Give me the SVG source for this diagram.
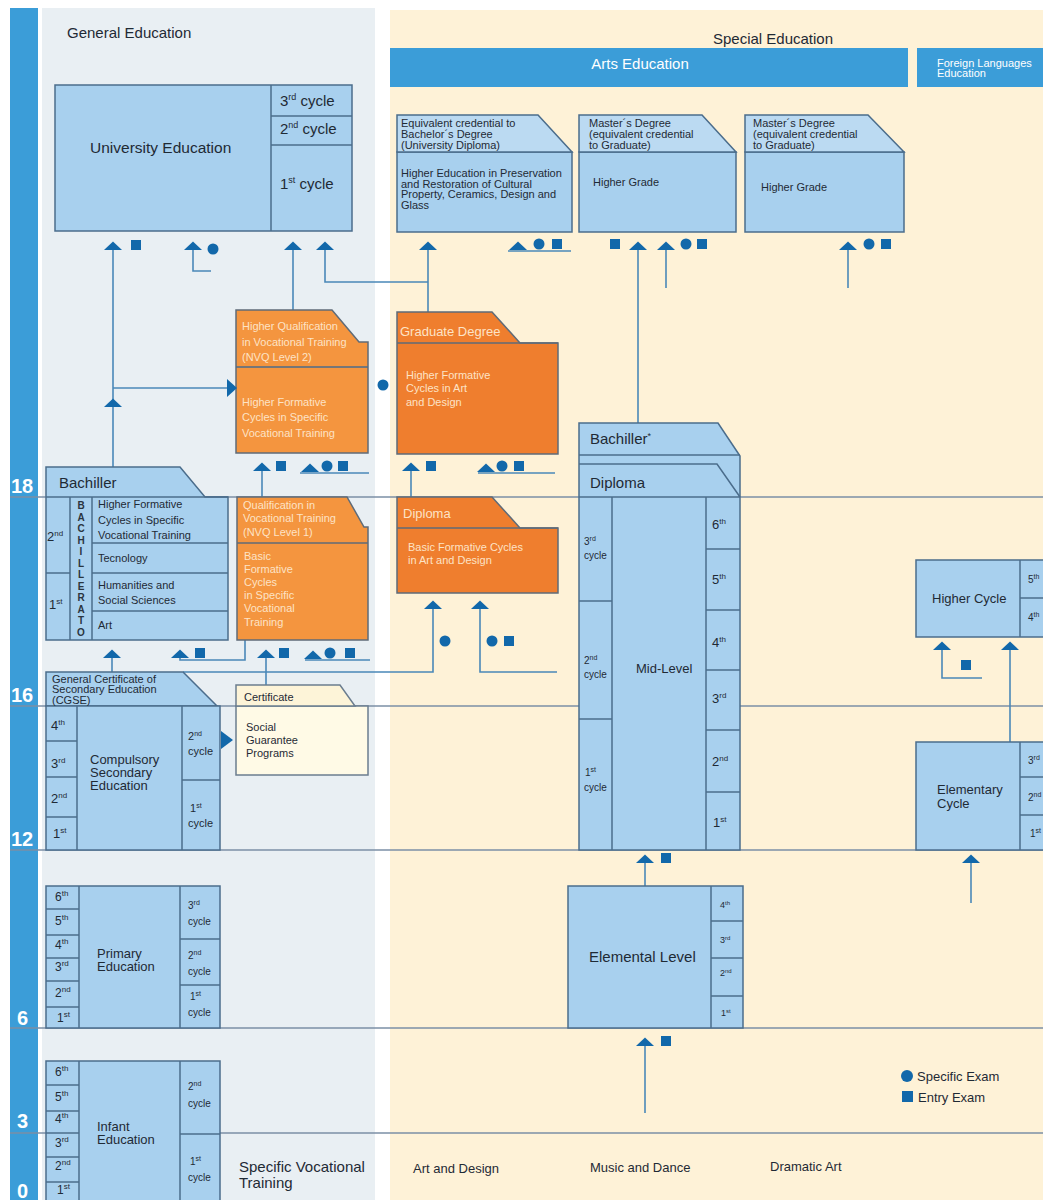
<svg xmlns="http://www.w3.org/2000/svg" xmlns:xlink="http://www.w3.org/1999/xlink" width="1043" height="1200" viewBox="0 0 1043 1200">
<style>
text{font-family:"Liberation Sans",Arial,Helvetica,sans-serif;fill:#1f2a35}
.w{fill:#ffffff}
.o{fill:#fde3c6}
.age{font-size:20px;font-weight:bold;fill:#ffffff}
.al{stroke:#7b8fa6;stroke-width:1.5;fill:none}
.box{fill:#a8d0ee;stroke:#4b6d8c;stroke-width:1.5}
.tab{fill:#bbdaf2;stroke:#4b6d8c;stroke-width:1.5}
.dv{stroke:#4b6d8c;stroke-width:1.5;fill:none}
.or1{fill:#f4953f;stroke:#5f6b78;stroke-width:1.5}
.or2{fill:#ef7e2e;stroke:#5f6b78;stroke-width:1.5}
.cert{fill:#fffae6;stroke:#6b7d8f;stroke-width:1.5}
.certt{fill:#fdf4d8;stroke:#6b7d8f;stroke-width:1.5}
.cn{fill:none;stroke:#4a88b8;stroke-width:1.6}
.sym{fill:#1268aa}
.f11{font-size:11px}
.f10{font-size:10px}
.f9{font-size:9px}
.f12{font-size:12px}
.f13{font-size:13px}
.f15{font-size:15px}
.vl{font-size:10px;font-weight:bold;fill:#2a3540}
</style>
<defs>
<path id="tri" d="M-9,4 L9,4 L0,-4.5 Z"/>
<circle id="dot" r="5.5"/>
<rect id="sq" x="-5" y="-5" width="10" height="10"/>
</defs>

<!-- backgrounds -->
<rect x="0" y="0" width="1043" height="1200" fill="#ffffff"/>
<rect x="10" y="8" width="28" height="1192" fill="#3b9dd8"/>
<rect x="42" y="8" width="333" height="1192" fill="#e9eff3"/>
<rect x="390" y="10" width="653" height="1190" fill="#fef2d7"/>
<rect x="390" y="48" width="518" height="39" fill="#3b9dd8"/>
<rect x="917" y="48" width="126" height="39" fill="#3b9dd8"/>

<text x="67" y="38" class="f15">General Education</text>
<text x="773" y="44" class="f15" text-anchor="middle">Special Education</text>
<text x="640" y="69" class="f15 w" text-anchor="middle">Arts Education</text>
<text x="937" y="67" class="f11 w">Foreign Languages</text>
<text x="937" y="77" class="f11 w">Education</text>

<!-- age lines -->
<g id="age-lines">
<line class="al" x1="10" y1="497" x2="1043" y2="497"/>
<line class="al" x1="10" y1="706" x2="1043" y2="706"/>
<line class="al" x1="10" y1="850" x2="1043" y2="850"/>
<line class="al" x1="10" y1="1028" x2="1043" y2="1028"/>
<line class="al" x1="10" y1="1133" x2="1043" y2="1133"/>
<text x="11" y="493" class="age">18</text>
<text x="11" y="702" class="age">16</text>
<text x="11" y="846" class="age">12</text>
<text x="17" y="1025" class="age">6</text>
<text x="17" y="1128" class="age">3</text>
<text x="17" y="1198" class="age" font-size="18px">0</text>
</g>

<!-- connectors -->
<g id="connectors">
<path class="cn" d="M113,250 V467"/>
<path class="cn" d="M113,388 H229"/>
<path class="cn" d="M193,250 V271 H211"/>
<path class="cn" d="M293,250 V310"/>
<path class="cn" d="M325,250 V282 H428"/>
<path class="cn" d="M428,250 V312"/>
<path class="cn" d="M638,250 V423"/>
<path class="cn" d="M666,250 V288"/>
<path class="cn" d="M848,250 V288"/>
<path class="cn" d="M508,251 H571"/>
<path class="cn" d="M262,471 V497"/>
<path class="cn" d="M300,473 H369"/>
<path class="cn" d="M411,471 V497"/>
<path class="cn" d="M478,473 H555"/>
<path class="cn" d="M112,658 V672"/>
<path class="cn" d="M180,658 V660 H245 V640"/>
<path class="cn" d="M266,658 V685"/>
<path class="cn" d="M305,660 H370"/>
<path class="cn" d="M183,672 H433 V608"/>
<path class="cn" d="M480,608 V672 H557"/>
<path class="cn" d="M645,862 V886"/>
<path class="cn" d="M645,1046 V1113"/>
<path class="cn" d="M942,650 V678 H982"/>
<path class="cn" d="M1010,650 V742"/>
<path class="cn" d="M971,863 V903"/>
</g>

<!-- University Education -->
<g id="university">
<rect class="box" x="55" y="85" width="297" height="146"/>
<path class="dv" d="M271,85 V231 M271,116 H352 M271,145 H352"/>
<text x="90" y="153" font-size="15.5px">University Education</text>
<text x="280" y="106" class="f15">3<tspan font-size="9px" dy="-6">rd</tspan><tspan dy="6"> cycle</tspan></text>
<text x="280" y="134" class="f15">2<tspan font-size="9px" dy="-6">nd</tspan><tspan dy="6"> cycle</tspan></text>
<text x="280" y="189" class="f15">1<tspan font-size="9px" dy="-6">st</tspan><tspan dy="6"> cycle</tspan></text>
</g>

<!-- Arts higher boxes -->
<g id="arts-equivalent">
<rect class="box" x="397" y="152" width="175" height="80"/>
<path class="tab" d="M397,115 H538 L572,152 H397 Z"/>
<text x="401" y="127" class="f11">Equivalent credential to</text>
<text x="401" y="138" class="f11">Bachelor´s Degree</text>
<text x="401" y="149" class="f11">(University Diploma)</text>
<text x="401" y="177" class="f11">Higher Education in Preservation</text>
<text x="401" y="187.5" class="f11">and Restoration of Cultural</text>
<text x="401" y="198" class="f11">Property, Ceramics, Design and</text>
<text x="401" y="208.5" class="f11">Glass</text>
</g>
<g id="arts-master-music">
<rect class="box" x="579" y="152" width="157" height="80"/>
<path class="tab" d="M579,115 H702 L736,152 H579 Z"/>
<text x="589" y="127" class="f11">Master´s Degree</text>
<text x="589" y="138" class="f11">(equivalent credential</text>
<text x="589" y="149" class="f11">to Graduate)</text>
<text x="593" y="186" class="f11">Higher Grade</text>
</g>
<g id="arts-master-drama">
<rect class="box" x="745" y="152" width="159" height="80"/>
<path class="tab" d="M745,115 H868 L904,152 H745 Z"/>
<text x="753" y="127" class="f11">Master´s Degree</text>
<text x="753" y="138" class="f11">(equivalent credential</text>
<text x="753" y="149" class="f11">to Graduate)</text>
<text x="761" y="191" class="f11">Higher Grade</text>
</g>

<!-- Higher Qualification -->
<g id="higher-qualification">
<path class="or1" d="M236,310 H332 L359,342 H368 V453 H236 Z"/>
<path class="dv" d="M236,367 H368" stroke="#5f6b78"/>
<text x="242" y="330" class="f11 o">Higher Qualification</text>
<text x="242" y="346" class="f11 o">in Vocational Training</text>
<text x="242" y="361" class="f11 o">(NVQ Level 2)</text>
<text x="242" y="406" class="f11 o">Higher Formative</text>
<text x="242" y="421" class="f11 o">Cycles in Specific</text>
<text x="242" y="437" class="f11 o">Vocational Training</text>
</g>

<!-- Graduate Degree -->
<g id="graduate-degree">
<path class="or2" d="M397,312 H492 L520,343 H558 V454 H397 Z"/>
<path d="M397,343 H558" stroke="#5f6b78" stroke-width="1.5"/>
<text x="400" y="336" class="f13 o">Graduate Degree</text>
<text x="406" y="379" class="f11 o">Higher Formative</text>
<text x="406" y="392" class="f11 o">Cycles in Art</text>
<text x="406" y="406" class="f11 o">and Design</text>
</g>

<!-- Bachiller -->
<g id="bachiller">
<path class="box" d="M46,467 H180 L205,497 H228 V640 H46 Z"/>
<path class="dv" d="M46,497 H228 M70,497 V640 M92,497 V640 M46,573 H70 M92,543 H228 M92,573 H228 M92,611 H228"/>
<text x="59" y="488" class="f15">Bachiller</text>
<text x="47" y="541" class="f13">2<tspan font-size="8px" dy="-5">nd</tspan></text>
<text x="49" y="609" class="f13">1<tspan font-size="8px" dy="-5">st</tspan></text>
<text class="vl" text-anchor="middle" x="81" y="509">B<tspan x="81" dy="11.5">A</tspan><tspan x="81" dy="11.5">C</tspan><tspan x="81" dy="11.5">H</tspan><tspan x="81" dy="11.5">I</tspan><tspan x="81" dy="11.5">L</tspan><tspan x="81" dy="11.5">L</tspan><tspan x="81" dy="11.5">E</tspan><tspan x="81" dy="11.5">R</tspan><tspan x="81" dy="11.5">A</tspan><tspan x="81" dy="11.5">T</tspan><tspan x="81" dy="11.5">O</tspan></text>
<text x="98" y="508" class="f11">Higher Formative</text>
<text x="98" y="524" class="f11">Cycles in Specific</text>
<text x="98" y="539" class="f11">Vocational Training</text>
<text x="98" y="562" class="f11">Tecnology</text>
<text x="98" y="589" class="f11">Humanities and</text>
<text x="98" y="604" class="f11">Social Sciences</text>
<text x="98" y="629" class="f11">Art</text>
</g>

<!-- Qualification in Vocational Training -->
<g id="qualification-vt">
<path class="or1" d="M237,497 H347 L364,527 H368 V640 H237 Z"/>
<path d="M237,543 H368" stroke="#5f6b78" stroke-width="1.5"/>
<text x="243" y="509" class="f11 o">Qualification in</text>
<text x="243" y="522" class="f11 o">Vocational Training</text>
<text x="243" y="536" class="f11 o">(NVQ Level 1)</text>
<text x="244" y="560" class="f11 o">Basic</text>
<text x="244" y="573" class="f11 o">Formative</text>
<text x="244" y="586" class="f11 o">Cycles</text>
<text x="244" y="599" class="f11 o">in Specific</text>
<text x="244" y="612" class="f11 o">Vocational</text>
<text x="244" y="626" class="f11 o">Training</text>
</g>

<!-- Diploma Art -->
<g id="diploma-art">
<path class="or2" d="M397,497 H492 L520,528 H558 V593 H397 Z"/>
<path d="M397,528 H558" stroke="#5f6b78" stroke-width="1.5"/>
<text x="403" y="518" class="f13 o">Diploma</text>
<text x="408" y="551" class="f11 o">Basic Formative Cycles</text>
<text x="408" y="564" class="f11 o">in Art and Design</text>
</g>

<!-- CGSE / Compulsory Secondary -->
<g id="compulsory-secondary">
<path class="box" d="M46,672 H183 L217,706 H46 Z"/>
<rect class="box" x="46" y="706" width="174" height="144"/>
<path class="dv" d="M77,706 V850 M182,706 V850 M46,741 H77 M46,777 H77 M46,817 H77 M182,780 H220"/>
<text x="52" y="683" class="f11">General Certificate of</text>
<text x="52" y="693" class="f11">Secondary Education</text>
<text x="52" y="704" class="f11">(CGSE)</text>
<text x="90" y="764" class="f13">Compulsory</text>
<text x="90" y="777" class="f13">Secondary</text>
<text x="90" y="790" class="f13">Education</text>
<text x="51" y="730" class="f13">4<tspan font-size="8px" dy="-5">th</tspan></text>
<text x="51" y="768" class="f13">3<tspan font-size="8px" dy="-5">rd</tspan></text>
<text x="51" y="803" class="f13">2<tspan font-size="8px" dy="-5">nd</tspan></text>
<text x="53" y="838" class="f13">1<tspan font-size="8px" dy="-5">st</tspan></text>
<text x="188" y="740" class="f11">2<tspan font-size="7px" dy="-4">nd</tspan></text>
<text x="188" y="755" class="f11">cycle</text>
<text x="190" y="812" class="f11">1<tspan font-size="7px" dy="-4">st</tspan></text>
<text x="188" y="827" class="f11">cycle</text>
</g>

<!-- Certificate / Social Guarantee -->
<g id="social-guarantee">
<rect class="cert" x="236" y="706" width="132" height="69"/>
<path class="certt" d="M236,685 H340 L355,706 H236 Z"/>
<text x="244" y="701" class="f11">Certificate</text>
<text x="246" y="731" class="f11">Social</text>
<text x="246" y="744" class="f11">Guarantee</text>
<text x="246" y="757" class="f11">Programs</text>
</g>

<!-- Bachiller* / Diploma / Mid-Level -->
<g id="mid-level">
<path class="box" d="M579,423 H718 L738,453 L740,456 V850 H579 Z"/>
<path class="dv" d="M579,455 H740 M579,464 H717 L740,497 M579,497 H740 M612,497 V850 M706,497 V850 M579,601 H612 M579,719 H612 M706,549 H740 M706,610 H740 M706,670 H740 M706,730 H740 M706,792 H740"/>
<text x="590" y="444" class="f15">Bachiller<tspan font-size="9px" dy="-5">*</tspan></text>
<text x="590" y="488" class="f15">Diploma</text>
<text x="584" y="545" class="f10">3<tspan font-size="7px" dy="-4">rd</tspan></text>
<text x="584" y="559" class="f10">cycle</text>
<text x="584" y="664" class="f10">2<tspan font-size="7px" dy="-4">nd</tspan></text>
<text x="584" y="678" class="f10">cycle</text>
<text x="585" y="776" class="f10">1<tspan font-size="7px" dy="-4">st</tspan></text>
<text x="584" y="791" class="f10">cycle</text>
<text x="636" y="673" class="f13">Mid-Level</text>
<text x="712" y="529" class="f13">6<tspan font-size="8px" dy="-5">th</tspan></text>
<text x="712" y="584" class="f13">5<tspan font-size="8px" dy="-5">th</tspan></text>
<text x="712" y="647" class="f13">4<tspan font-size="8px" dy="-5">th</tspan></text>
<text x="712" y="703" class="f13">3<tspan font-size="8px" dy="-5">rd</tspan></text>
<text x="712" y="766" class="f13">2<tspan font-size="8px" dy="-5">nd</tspan></text>
<text x="713" y="827" class="f13">1<tspan font-size="8px" dy="-5">st</tspan></text>
</g>

<!-- Elemental Level -->
<g id="elemental-level">
<rect class="box" x="568" y="886" width="175" height="142"/>
<path class="dv" d="M711,886 V1028 M711,921 H743 M711,958 H743 M711,996 H743"/>
<text x="589" y="962" class="f15">Elemental Level</text>
<text x="720" y="908" class="f9">4<tspan font-size="6px" dy="-3">th</tspan></text>
<text x="720" y="943" class="f9">3<tspan font-size="6px" dy="-3">rd</tspan></text>
<text x="720" y="976" class="f9">2<tspan font-size="6px" dy="-3">nd</tspan></text>
<text x="721" y="1016" class="f9">1<tspan font-size="6px" dy="-3">st</tspan></text>
</g>

<!-- Higher Cycle (languages) -->
<g id="higher-cycle">
<rect class="box" x="916" y="560" width="134" height="77"/>
<path class="dv" d="M1020,560 V637 M1020,598 H1050"/>
<text x="932" y="603" class="f13">Higher Cycle</text>
<text x="1028" y="583" class="f10">5<tspan font-size="7px" dy="-4">th</tspan></text>
<text x="1028" y="621" class="f10">4<tspan font-size="7px" dy="-4">th</tspan></text>
</g>

<!-- Elementary Cycle -->
<g id="elementary-cycle">
<rect class="box" x="916" y="742" width="134" height="108"/>
<path class="dv" d="M1020,742 V850 M1020,777 H1050 M1020,815 H1050"/>
<text x="937" y="794" class="f13">Elementary</text>
<text x="937" y="808" class="f13">Cycle</text>
<text x="1028" y="764" class="f10">3<tspan font-size="7px" dy="-4">rd</tspan></text>
<text x="1028" y="801" class="f10">2<tspan font-size="7px" dy="-4">nd</tspan></text>
<text x="1030" y="837" class="f10">1<tspan font-size="7px" dy="-4">st</tspan></text>
</g>

<!-- Primary Education -->
<g id="primary-education">
<rect class="box" x="46" y="886" width="174" height="142"/>
<path class="dv" d="M79,886 V1028 M180,886 V1028 M46,909 H79 M46,935 H79 M46,958 H79 M46,981 H79 M46,1007 H79 M180,939 H220 M180,985 H220"/>
<text x="97" y="958" class="f13">Primary</text>
<text x="97" y="971" class="f13">Education</text>
<text x="55" y="901" class="f12">6<tspan font-size="8px" dy="-5">th</tspan></text>
<text x="55" y="925" class="f12">5<tspan font-size="8px" dy="-5">th</tspan></text>
<text x="55" y="949" class="f12">4<tspan font-size="8px" dy="-5">th</tspan></text>
<text x="55" y="971" class="f12">3<tspan font-size="8px" dy="-5">rd</tspan></text>
<text x="55" y="997" class="f12">2<tspan font-size="8px" dy="-5">nd</tspan></text>
<text x="57" y="1022" class="f12">1<tspan font-size="8px" dy="-5">st</tspan></text>
<text x="188" y="909" class="f10">3<tspan font-size="7px" dy="-4">rd</tspan></text>
<text x="188" y="925" class="f10">cycle</text>
<text x="188" y="959" class="f10">2<tspan font-size="7px" dy="-4">nd</tspan></text>
<text x="188" y="975" class="f10">cycle</text>
<text x="190" y="1000" class="f10">1<tspan font-size="7px" dy="-4">st</tspan></text>
<text x="188" y="1016" class="f10">cycle</text>
</g>

<!-- Infant Education -->
<g id="infant-education">
<rect class="box" x="46" y="1061" width="174" height="150"/>
<path class="dv" d="M79,1061 V1211 M180,1061 V1211 M46,1085 H79 M46,1111 H79 M46,1133 H79 M46,1157 H79 M46,1182 H79 M180,1134 H220"/>
<text x="97" y="1131" class="f13">Infant</text>
<text x="97" y="1144" class="f13">Education</text>
<text x="55" y="1076" class="f12">6<tspan font-size="8px" dy="-5">th</tspan></text>
<text x="55" y="1101" class="f12">5<tspan font-size="8px" dy="-5">th</tspan></text>
<text x="55" y="1123" class="f12">4<tspan font-size="8px" dy="-5">th</tspan></text>
<text x="55" y="1147" class="f12">3<tspan font-size="8px" dy="-5">rd</tspan></text>
<text x="55" y="1170" class="f12">2<tspan font-size="8px" dy="-5">nd</tspan></text>
<text x="57" y="1194" class="f12">1<tspan font-size="8px" dy="-5">st</tspan></text>
<text x="188" y="1090" class="f10">2<tspan font-size="7px" dy="-4">nd</tspan></text>
<text x="188" y="1107" class="f10">cycle</text>
<text x="190" y="1165" class="f10">1<tspan font-size="7px" dy="-4">st</tspan></text>
<text x="188" y="1181" class="f10">cycle</text>
</g>

<!-- column labels -->
<g id="column-labels">
<text x="239" y="1172" class="f15">Specific Vocational</text>
<text x="239" y="1188" class="f15">Training</text>
<text x="413" y="1173" class="f13">Art and Design</text>
<text x="590" y="1172" class="f13">Music and Dance</text>
<text x="770" y="1171" class="f13">Dramatic Art</text>
</g>

<!-- symbols -->
<g id="symbols" class="sym">
<use xlink:href="#tri" x="113" y="246"/><use xlink:href="#sq" x="136" y="245"/>
<use xlink:href="#tri" x="193" y="246"/><use xlink:href="#dot" x="213" y="249"/>
<use xlink:href="#tri" x="293" y="246"/>
<use xlink:href="#tri" x="325" y="246"/>
<use xlink:href="#tri" x="428" y="246"/>
<use xlink:href="#tri" x="518" y="246"/><use xlink:href="#dot" x="539" y="244"/><use xlink:href="#sq" x="557" y="244"/>
<use xlink:href="#sq" x="615" y="244"/><use xlink:href="#tri" x="638" y="246"/><use xlink:href="#tri" x="666" y="246"/><use xlink:href="#dot" x="686" y="244"/><use xlink:href="#sq" x="702" y="244"/>
<use xlink:href="#tri" x="848" y="246"/><use xlink:href="#dot" x="869" y="244"/><use xlink:href="#sq" x="886" y="244"/>
<use xlink:href="#tri" x="113" y="403"/>
<path d="M227,379 L237,388 L227,397 Z"/>
<use xlink:href="#dot" x="383" y="385"/>
<use xlink:href="#tri" x="262" y="467"/><use xlink:href="#sq" x="281" y="466"/>
<use xlink:href="#tri" x="310" y="468"/><use xlink:href="#dot" x="327" y="466"/><use xlink:href="#sq" x="343" y="466"/>
<use xlink:href="#tri" x="411" y="467"/><use xlink:href="#sq" x="431" y="466"/>
<use xlink:href="#tri" x="486" y="468"/><use xlink:href="#dot" x="502" y="466"/><use xlink:href="#sq" x="519" y="466"/>
<use xlink:href="#tri" x="112" y="654"/>
<use xlink:href="#tri" x="180" y="654"/><use xlink:href="#sq" x="200" y="653"/>
<use xlink:href="#tri" x="266" y="654"/><use xlink:href="#sq" x="284" y="653"/>
<use xlink:href="#tri" x="313" y="655"/><use xlink:href="#dot" x="330" y="653"/><use xlink:href="#sq" x="350" y="653"/>
<use xlink:href="#tri" x="433" y="605"/><use xlink:href="#dot" x="445" y="641"/>
<use xlink:href="#tri" x="480" y="605"/><use xlink:href="#dot" x="492" y="641"/><use xlink:href="#sq" x="509" y="641"/>
<path d="M221,731 L233,740 L221,749 Z"/>
<use xlink:href="#tri" x="645" y="859"/><use xlink:href="#sq" x="666" y="858"/>
<use xlink:href="#tri" x="645" y="1042"/><use xlink:href="#sq" x="666" y="1041"/>
<use xlink:href="#tri" x="942" y="646"/><use xlink:href="#sq" x="966" y="665"/>
<use xlink:href="#tri" x="1010" y="646"/>
<use xlink:href="#tri" x="971" y="859"/>
</g>

<!-- legend -->
<g id="legend">
<circle class="sym" cx="907" cy="1076" r="6"/>
<text x="917" y="1081" class="f13">Specific Exam</text>
<rect class="sym" x="902" y="1091" width="11" height="11"/>
<text x="918" y="1102" class="f13">Entry Exam</text>
</g>
</svg>
